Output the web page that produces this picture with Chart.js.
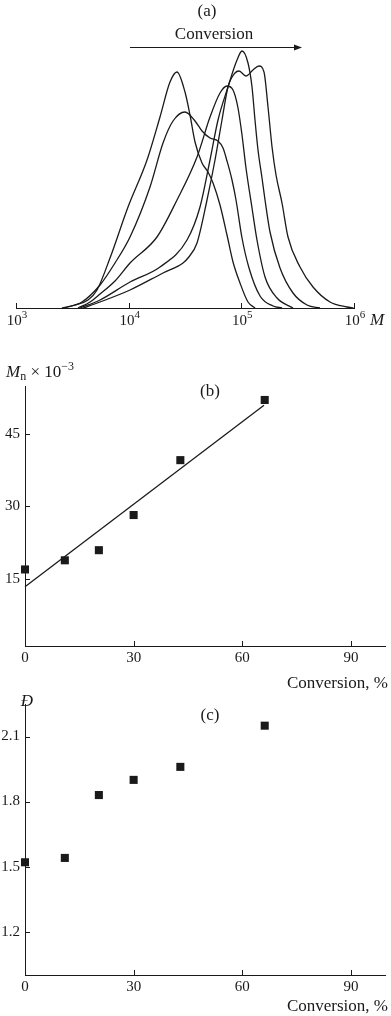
<!DOCTYPE html>
<html><head><meta charset="utf-8">
<script src="https://cdn.jsdelivr.net/npm/chart.js@4.4.1/dist/chart.umd.min.js"></script>
<style>
html,body{margin:0;padding:0;background:#fff;}
body{width:391px;height:1016px;position:relative;overflow:hidden;}
canvas{position:absolute;left:0;display:block;}
</style></head><body>
<canvas id="ca" width="391" height="345" style="top:0px"></canvas>
<canvas id="cb" width="391" height="350" style="top:350px"></canvas>
<canvas id="cc" width="391" height="326" style="top:690px"></canvas>
<script>
// ---- Panel (a): GPC curves (M, intensity a.u.) ----
const gpcM1 = [2560, 3340, 4360, 5240, 6830, 9870, 14550, 18970, 23270, 26850, 31620, 35030, 38810, 44770, 50600, 56070, 64670, 74620, 84360, 97320, 114600, 132200];
const gpcW1 = [0, 3, 8, 18, 50, 101, 148, 191, 226, 236, 216, 193, 166, 145, 136, 125, 103, 73, 46, 25, 6, 0];
const gpcM2 = [2670, 3850, 5570, 7560, 10280, 15470, 20180, 24750, 31620, 38810, 44770, 52720, 62090, 68770, 74620, 82650, 89700, 101400, 117000, 146500, 191000, 229600];
const gpcW2 = [0, 6, 23, 45, 71, 121, 165, 187, 196, 187, 177, 170, 167, 160, 147, 128, 108, 70, 40, 12, 2, 0];
const gpcM3 = [3550, 4540, 5570, 7560, 10280, 17840, 26850, 40430, 52720, 64670, 74620, 84360, 93430, 101400, 110000, 124400, 137700, 162300, 207400, 287500];
const gpcW3 = [0, 6, 14, 27, 45, 71, 108, 151, 191, 215, 222, 218, 200, 173, 140, 100, 68, 31, 10, 0];
const gpcM4 = [3700, 5570, 10280, 18970, 32950, 42970, 52720, 62090, 74620, 91540, 101400, 114600, 124400, 132200, 140600, 152600, 162300, 179700, 220400, 287500, 382700, 499200];
const gpcW4 = [0, 8, 26, 41, 68, 101, 148, 188, 218, 248, 257, 245, 221, 188, 158, 130, 108, 76, 40, 15, 3, 0];
const gpcM5 = [3930, 5570, 10280, 20180, 30360, 33620, 40430, 49580, 58390, 67360, 76160, 87850, 95350, 110000, 126900, 143500, 158900, 172500, 187300, 203200, 229600, 259600, 331700, 432700, 612700, 866900, 990000];
const gpcW5 = [0, 6, 18, 35, 45, 50, 65, 108, 148, 188, 221, 235, 237, 232, 238, 242, 236, 201, 161, 133, 105, 71, 41, 21, 6, 1, 0];
const gpcTicks = [1e3, 1e4, 1e5, 1e6];
const gpcTickBase = ['10', '10', '10', '10'];
const gpcTickExp = ['3', '4', '5', '6'];

// ---- Panels (b), (c) ----
const convX = [0, 11, 20.4, 30, 42.9, 66.2];
const mnY = [16.9, 18.8, 20.9, 28.2, 39.6, 52.1];
const fitX = [0, 66];
const fitY = [13.3, 51.0];
const dispY = [1.52, 1.54, 1.83, 1.90, 1.96, 2.15];
const convTicks = [0, 30, 60, 90];
const mnTicks = [15, 30, 45];
const dispTicks = [1.2, 1.5, 1.8, 2.1];

const INK = '#1a1a1a';
const FONT = '"Liberation Serif", "DejaVu Serif", serif';
Chart.defaults.font.family = FONT;
Chart.defaults.color = INK;

const inTicks = {
  id: 'inTicks',
  afterDraw(chart, args, opts) {
    const ctx = chart.ctx, a = chart.chartArea, len = opts.len || 5;
    ctx.save(); ctx.strokeStyle = INK; ctx.lineWidth = 1;
    for (const s of Object.values(chart.scales)) {
      if (!s.options.display) continue;
      for (const t of s.ticks) {
        const p = Math.round(s.getPixelForValue(t.value)) + 0.5;
        ctx.beginPath();
        if (s.isHorizontal()) { ctx.moveTo(p, a.bottom); ctx.lineTo(p, a.bottom - len); }
        else { ctx.moveTo(a.left, p); ctx.lineTo(a.left + len, p); }
        ctx.stroke();
      }
    }
    ctx.restore();
  }
};

function drawSegs(ctx, it) {
  ctx.save();
  ctx.fillStyle = INK;
  ctx.textBaseline = 'alphabetic';
  ctx.textAlign = 'left';
  const fontFor = s => (s.italic ? 'italic ' : '') + (s.size || it.size) + 'px ' + FONT;
  let total = 0;
  for (const s of it.segs) { ctx.font = fontFor(s); total += ctx.measureText(s.t).width; }
  let x = it.x;
  if (it.align === 'center') x -= total / 2; else if (it.align === 'right') x -= total;
  for (const s of it.segs) {
    ctx.font = fontFor(s);
    ctx.fillText(s.t, x, it.y + (s.dy || 0));
    x += ctx.measureText(s.t).width;
  }
  ctx.restore();
}

const notes = {
  id: 'notes',
  afterDraw(chart, args, opts) {
    const ctx = chart.ctx;
    for (const it of (opts.items || [])) drawSegs(ctx, it);
    if (opts.powLabels) {
      const s = chart.scales.x, pl = opts.powLabels;
      s.ticks.forEach((t, i) => {
        drawSegs(ctx, { x: s.getPixelForValue(t.value) + 1, y: pl.y, size: 15, align: 'center',
          segs: [{ t: pl.base[i] }, { t: pl.exp[i], size: 11, dy: -7 }] });
      });
    }
    if (opts.arrow) {
      const ar = opts.arrow;
      ctx.save();
      ctx.strokeStyle = INK; ctx.fillStyle = INK; ctx.lineWidth = 1;
      ctx.beginPath(); ctx.moveTo(ar.x1, ar.y + 0.5); ctx.lineTo(ar.x2 - 6, ar.y + 0.5); ctx.stroke();
      ctx.beginPath(); ctx.moveTo(ar.x2, ar.y + 0.5); ctx.lineTo(ar.x2 - 8, ar.y - 2.5); ctx.lineTo(ar.x2 - 8, ar.y + 3.5); ctx.closePath(); ctx.fill();
      ctx.restore();
    }
  }
};

const tickFont = { family: FONT, size: 15 };

function axisX(opts) {
  return Object.assign({
    type: 'linear',
    grid: { display: false, drawTicks: false },
    border: { display: true, color: INK, width: 1 },
    ticks: { color: INK, font: tickFont, padding: 3, maxRotation: 0, autoSkip: false }
  }, opts);
}

// Panel (a)
const curves = [[gpcM1, gpcW1], [gpcM2, gpcW2], [gpcM3, gpcW3], [gpcM4, gpcW4], [gpcM5, gpcW5]];
new Chart(document.getElementById('ca'), {
  type: 'line',
  data: {
    datasets: curves.map(c => ({
      data: c[0].map((m, i) => ({ x: m, y: c[1][i] })),
      borderColor: INK, borderWidth: 1.3, pointRadius: 0, fill: false,
      cubicInterpolationMode: 'monotone', clip: false
    }))
  },
  options: {
    responsive: false, animation: false, events: [],
    layout: { padding: { left: 16, right: 37, top: 8, bottom: 0 } },
    plugins: {
      legend: { display: false }, tooltip: { enabled: false },
      inTicks: { len: 5 },
      notes: {
        items: [
          { x: 207, y: 16, size: 17, align: 'center', segs: [{ t: '(a)' }] },
          { x: 214, y: 39, size: 17, align: 'center', segs: [{ t: 'Conversion' }] },
          { x: 377, y: 325, size: 17, align: 'center', segs: [{ t: 'M', italic: true }] }
        ],
        powLabels: { y: 325, base: gpcTickBase, exp: gpcTickExp },
        arrow: { x1: 130, x2: 302, y: 47 }
      }
    },
    scales: {
      x: axisX({
        type: 'logarithmic', min: 1e3, max: 1e6,
        afterBuildTicks: s => { s.ticks = gpcTicks.map(v => ({ value: v })); },
        afterFit: s => { s.height = 37; },
        ticks: { display: false }
      }),
      y: { display: false, min: 0, max: 300 }
    }
  },
  plugins: [inTicks, notes]
});

function yAxis(min, max, ticks) {
  return {
    type: 'linear', min: min, max: max,
    afterBuildTicks: s => { s.ticks = ticks.map(v => ({ value: v })); },
    afterFit: s => { s.width = 25; },
    grid: { display: false, drawTicks: false },
    border: { display: true, color: INK, width: 1 },
    ticks: { color: INK, font: tickFont, padding: 5, autoSkip: false,
      callback: v => String(v) }
  };
}

const squarePts = (ys) => convX.map((x, i) => ({ x: x, y: ys[i] }));

// Panel (b)
new Chart(document.getElementById('cb'), {
  type: 'scatter',
  data: {
    datasets: [
      { data: squarePts(mnY), pointStyle: 'rect', pointRadius: 5.7, backgroundColor: INK, borderColor: INK, borderWidth: 0, showLine: false, clip: false },
      { data: fitX.map((x, i) => ({ x: x, y: fitY[i] })), showLine: true, pointRadius: 0, borderColor: INK, borderWidth: 1.3, clip: false }
    ]
  },
  options: {
    responsive: false, animation: false, events: [],
    layout: { padding: { left: 0, right: 4, top: 36, bottom: 0 } },
    plugins: {
      legend: { display: false }, tooltip: { enabled: false },
      inTicks: { len: 5 },
      notes: {
        items: [
          { x: 6, y: 27, size: 17, segs: [{ t: 'M', italic: true }, { t: 'n', size: 12, dy: 3 }, { t: ' × 10' }, { t: '−3', size: 12, dy: -7 }] },
          { x: 210, y: 46, size: 17, align: 'center', segs: [{ t: '(b)' }] },
          { x: 388, y: 338, size: 17, align: 'right', segs: [{ t: 'Conversion, %' }] }
        ]
      }
    },
    scales: {
      x: axisX({ min: 0, max: 99.5,
        afterBuildTicks: s => { s.ticks = convTicks.map(v => ({ value: v })); },
        afterFit: s => { s.height = 54; } }),
      y: yAxis(1, 55, mnTicks)
    }
  },
  plugins: [inTicks, notes]
});

// Panel (c)
new Chart(document.getElementById('cc'), {
  type: 'scatter',
  data: {
    datasets: [
      { data: squarePts(dispY), pointStyle: 'rect', pointRadius: 5.7, backgroundColor: INK, borderColor: INK, borderWidth: 0, showLine: false, clip: false }
    ]
  },
  options: {
    responsive: false, animation: false, events: [],
    layout: { padding: { left: 0, right: 4, top: 13, bottom: 0 } },
    plugins: {
      legend: { display: false }, tooltip: { enabled: false },
      inTicks: { len: 5 },
      notes: {
        items: [
          { x: 27, y: 16, size: 17, align: 'center', segs: [{ t: 'Đ', italic: true }] },
          { x: 210, y: 30, size: 17, align: 'center', segs: [{ t: '(c)' }] },
          { x: 388, y: 321, size: 17, align: 'right', segs: [{ t: 'Conversion, %' }] }
        ]
      }
    },
    scales: {
      x: axisX({ min: 0, max: 99.5,
        afterBuildTicks: s => { s.ticks = convTicks.map(v => ({ value: v })); },
        afterFit: s => { s.height = 41; } }),
      y: yAxis(1.0, 2.25, dispTicks)
    }
  },
  plugins: [inTicks, notes]
});
</script>
</body></html>
